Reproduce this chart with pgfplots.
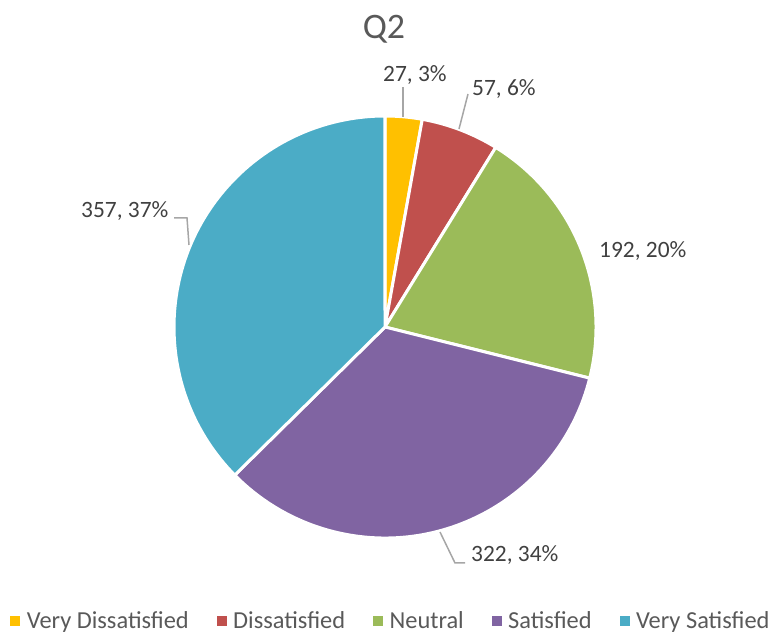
\documentclass[border=0pt]{standalone}
\usepackage{fontspec}
\setmainfont{Carlito}
\usepackage{pgfplots}
\usepackage{pgfplotstable}
\pgfplotsset{compat=1.18}
\definecolor{cVD}{HTML}{FFC000}
\definecolor{cD}{HTML}{C0504D}
\definecolor{cN}{HTML}{9BBB59}
\definecolor{cS}{HTML}{8064A2}
\definecolor{cVS}{HTML}{4BACC6}
\definecolor{txtA}{HTML}{404040}
\definecolor{txtB}{HTML}{595959}
\definecolor{lead}{HTML}{A6A6A6}
\pgfplotstableread{
idx value pct
0 27 3
1 57 6
2 192 20
3 322 34
4 357 37
}\piedata
\pgfplotstablegetelem{0}{value}\of\piedata\edef\vA{\pgfplotsretval}%
\pgfplotstablegetelem{1}{value}\of\piedata\edef\vB{\pgfplotsretval}%
\pgfplotstablegetelem{2}{value}\of\piedata\edef\vC{\pgfplotsretval}%
\pgfplotstablegetelem{3}{value}\of\piedata\edef\vD{\pgfplotsretval}%
\pgfplotstablegetelem{4}{value}\of\piedata\edef\vE{\pgfplotsretval}%
\pgfmathsetmacro\tot{\vA+\vB+\vC+\vD+\vE}%
\pgfmathsetmacro\aA{90}%
\pgfmathsetmacro\aB{\aA-(\vA/\tot)*360}%
\pgfmathsetmacro\aC{\aB-(\vB/\tot)*360}%
\pgfmathsetmacro\aD{\aC-(\vC/\tot)*360}%
\pgfmathsetmacro\aE{\aD-(\vD/\tot)*360}%
\pgfmathsetmacro\aF{\aE-(\vE/\tot)*360}%
\newcommand\slice[3]{%
  \fill[#1, draw=white, line width=3bp, line join=round]
    (axis cs:385,309) -- ++(#2:211bp) arc[start angle=#2, end angle=#3, radius=211bp] -- cycle;}
\begin{document}
\begin{tikzpicture}
\begin{axis}[
  width=771bp, height=636bp, scale only axis,
  xmin=0, xmax=771, ymin=0, ymax=636,
  hide axis, clip=false,
  legend columns=5,
  legend image code/.code={\fill[#1] (0bp,-4.5bp) rectangle (9bp,4.5bp);},
  legend style={at={(axis cs:390,15)}, anchor=center, draw=none, fill=none,
    inner sep=0pt, column sep=7bp,
    /tikz/every even column/.append style={column sep=28bp},
    font=\fontsize{24.5}{29}\selectfont, text=txtB,
    nodes={inner sep=0pt}},
]
\path (axis cs:0,0) -- (axis cs:771,636);
\slice{cVD}{\aA}{\aB}
\slice{cD}{\aB}{\aC}
\slice{cN}{\aC}{\aD}
\slice{cS}{\aD}{\aE}
\slice{cVS}{\aE}{\aF}
% leader lines
\draw[lead, line width=1.5bp] (axis cs:403,549) -- (axis cs:403,519);
\draw[lead, line width=1.5bp] (axis cs:468,542) -- (axis cs:459,507);
\draw[lead, line width=1.5bp] (axis cs:174,418) -- (axis cs:187,418) -- (axis cs:189,391);
\draw[lead, line width=1.5bp] (axis cs:440,104) -- (axis cs:455,73) -- (axis cs:465,73);
% data labels
\begin{scope}[every node/.style={inner sep=0pt, anchor=base west, text=txtA, font=\fontsize{23.5}{28}\selectfont}]
\node at (axis cs:383,554) {27, 3\%};
\node at (axis cs:472,540) {57, 6\%};
\node at (axis cs:81,418) {357, 37\%};
\node at (axis cs:471,74) {322, 34\%};
\node at (axis cs:599,378) {192, 20\%};
\end{scope}
\node[inner sep=0pt, anchor=base, text=txtB, font=\fontsize{36}{40}\selectfont] at (axis cs:384,597) {Q2};
\addlegendimage{cVD}
\addlegendimage{cD}
\addlegendimage{cN}
\addlegendimage{cS}
\addlegendimage{cVS}
\legend{Very Dissatisfied, Dissatisfied, Neutral, Satisfied, Very Satisfied}
\end{axis}
\end{tikzpicture}
\end{document}
